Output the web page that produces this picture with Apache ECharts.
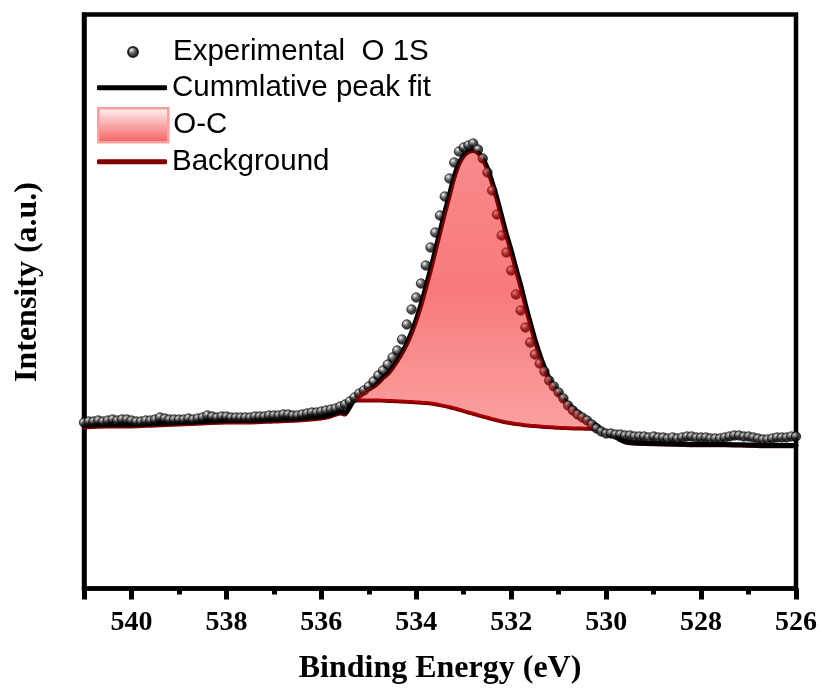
<!DOCTYPE html>
<html>
<head>
<meta charset="utf-8">
<script src="https://cdn.jsdelivr.net/npm/echarts@6/dist/echarts.min.js"></script>
<style>
  html, body { margin: 0; padding: 0; background: #fff; }
  #chart { width: 823px; height: 693px; }
</style>
</head>
<body>
<div id="chart"></div>
<script>
// O 1s scan, binding energy grid (eV), 0.1 eV step
const energies = Array.from({ length: 151 }, (_, i) => +(541 - i * 0.1).toFixed(1))

// measured intensity (a.u.), 541.0 -> 526.0 eV
const experimental = [
  170, 171, 171, 172, 171, 172, 173, 172, 173, 173,
  172, 171, 171, 172, 172, 173, 175, 174, 173, 173,
  173, 173, 174, 173, 174, 175, 177, 176, 175, 176,
  176, 175, 175, 175, 175, 175, 176, 176, 176, 177,
  177, 177, 178, 178, 177, 177, 178, 179, 180, 180,
  181, 182, 183, 184, 186, 188, 191, 195, 199, 202,
  206, 211, 217, 222, 228, 235, 242, 253, 268, 283,
  295, 309, 327, 345, 360, 377, 396, 414, 430, 441,
  445, 447, 449, 443, 434, 420, 402, 378, 357, 340,
  322, 298, 282, 265, 250, 238, 229, 221, 212, 206,
  200, 194, 187, 182, 178, 175, 172, 168, 164, 161,
  159, 159, 158, 158, 157, 157, 156, 156, 156, 155,
  156, 155, 155, 154, 155, 154, 155, 156, 156, 155,
  155, 155, 154, 154, 154, 155, 156, 157, 157, 156,
  156, 155, 154, 153, 153, 154, 155, 155, 155, 156,
  156
]

// fit grid: coarse on the flat parts, 0.1 eV over the peak
const fitEnergies = [
  541.0, 540.5, 540.0, 539.5, 539.0, 538.5, 538.0, 537.5, 537.0, 536.5, 536.0, 535.8, 535.6,
  535.5, 535.4, 535.3, 535.2, 535.1, 535.0, 534.9, 534.8, 534.7, 534.6,
  534.5, 534.4, 534.3, 534.2, 534.1, 534.0, 533.9, 533.8, 533.7, 533.6,
  533.5, 533.4, 533.3, 533.2, 533.1, 533.0, 532.9, 532.8, 532.7, 532.6,
  532.5, 532.4, 532.3, 532.2, 532.1, 532.0, 531.9, 531.8, 531.7, 531.6,
  531.5, 531.4, 531.3, 531.2, 531.1, 531.0, 530.9, 530.8, 530.7, 530.6,
  530.5, 530.4, 530.3, 530.2, 530.1, 530.0, 529.9, 529.8, 529.7, 529.6,
  529.5, 529.0, 528.5, 528.0, 527.5, 527.0, 526.5, 526.0
]

const cumulativeFit = [
  167, 168, 168, 169, 170, 171, 172, 172, 173, 174, 176, 178, 181,
  180, 186, 194, 199, 202, 204, 206, 210, 215, 219,
  225, 232, 240, 249, 260, 273, 288, 305, 323, 342,
  361, 380, 398, 416, 429, 437, 441, 442, 440, 434,
  424, 410, 394, 376, 358, 342, 324, 307, 288, 270,
  253, 238, 225, 214, 206, 199, 193, 188, 184, 180,
  176, 172, 169, 167, 163, 160, 158, 156, 153, 151,
  150, 149, 148.5, 148, 148, 147.5, 147, 147
]

const background = [
  165, 166, 166, 167, 168, 169, 170, 170, 171, 172, 174, 176, 179,
  178, 185, 192, 192, 192, 192, 192, 192, 191.8, 191.6,
  191.4, 191.2, 191, 190.7, 190.4, 190.1, 189.8, 189.4, 188.9, 188.2,
  187.4, 186.4, 185.3, 184.1, 182.8, 181.4, 180, 178.7, 177.3, 176,
  174.7, 173.4, 172.2, 171, 170, 169.2, 168.5, 167.9, 167.3, 166.8,
  166.4, 166, 165.6, 165.3, 165, 164.7, 164.5, 164.3, 164.1, 164,
  163.9, 163.8, 163.6, 162.8, 161.5, 159, 157, 155, 152.2, 150.2,
  149.2, 148.2, 147.7, 147.2, 147.2, 146.7, 146.2, 146.2
]

// fitted O-C component spans this energy window
const ocRange = [530.3, 535.3]

const xTicks = { min: 526, max: 541, interval: 2 }

const ocIdx = fitEnergies
  .map((e, i) => (e >= ocRange[0] - 0.01 && e <= ocRange[1] + 0.01 ? i : -1))
  .filter(i => i >= 0)

const SANS = '"Liberation Sans", Arial, sans-serif'
const SERIF = '"Liberation Serif", "Times New Roman", serif'
const DARK_RED = '#820000'

const dotColor = new echarts.graphic.RadialGradient(0.36, 0.32, 0.64, [
  { offset: 0, color: '#ffffff' },
  { offset: 0.22, color: '#9a9a9a' },
  { offset: 0.6, color: '#202020' },
  { offset: 1, color: '#000000' }
])

const ocFill = new echarts.graphic.LinearGradient(0, 0, 0, 1, [
  { offset: 0, color: 'rgba(241, 0, 0, 0.46)' },
  { offset: 0.5, color: 'rgba(241, 0, 0, 0.52)' },
  { offset: 1, color: 'rgba(241, 0, 0, 0.37)' }
])

const chart = echarts.init(document.getElementById('chart'))

const legendBase = {
  orient: 'vertical',
  left: 97,
  padding: 0,
  itemWidth: 70,
  selectedMode: false,
  textStyle: { fontFamily: SANS, fontSize: 29.5, color: '#000' }
}

chart.setOption({
  animation: false,
  backgroundColor: '#fff',
  textStyle: { fontFamily: SANS },
  grid: {
    left: 84,
    right: 27,
    top: 14.5,
    bottom: 104.5,
    show: true,
    borderColor: '#000',
    borderWidth: 4.5
  },
  legend: [
    {
      // the circle icon sits at the left of its box, so shift it to the swatch centre
      ...legendBase, left: 127, top: 37, itemHeight: 10,
      data: [{ name: 'Experimental  O 1S', icon: 'circle' }]
    },
    {
      ...legendBase, top: 72.7, itemHeight: 5,
      data: [{ name: 'Cummlative peak fit', icon: 'roundRect', itemStyle: { color: '#000' } }]
    },
    {
      ...legendBase, top: 107, itemHeight: 34,
      data: [{
        name: 'O-C',
        icon: 'rect',
        itemStyle: {
          color: new echarts.graphic.LinearGradient(0, 0, 0, 1, [
            { offset: 0, color: '#fff6f6' },
            { offset: 1, color: '#f45c5c' }
          ]),
          borderColor: '#f7a0a0',
          borderWidth: 2.5
        }
      }]
    },
    {
      ...legendBase, top: 146.7, itemHeight: 5,
      data: [{ name: 'Background', icon: 'roundRect', itemStyle: { color: DARK_RED } }]
    }
  ],
  xAxis: {
    type: 'value',
    min: xTicks.min,
    max: xTicks.max,
    interval: xTicks.interval,
    inverse: true,
    name: 'Binding Energy (eV)',
    nameLocation: 'middle',
    nameGap: 64,
    nameTextStyle: { fontFamily: SERIF, fontWeight: 'bold', fontSize: 32, color: '#000' },
    axisLine: { lineStyle: { color: '#000', width: 4.5 } },
    axisTick: { length: 11, lineStyle: { color: '#000', width: 5 } },
    minorTick: { show: true, splitNumber: 2, length: 6, lineStyle: { color: '#000', width: 5 } },
    axisLabel: {
      fontFamily: SERIF, fontWeight: 'bold', fontSize: 28, color: '#000', margin: 20,
      showMaxLabel: false
    },
    splitLine: { show: false }
  },
  yAxis: {
    type: 'value',
    min: 4,
    max: 578,
    name: 'Intensity (a.u.)',
    nameLocation: 'middle',
    nameGap: 40,
    nameTextStyle: {
      fontFamily: SERIF, fontWeight: 'bold', fontSize: 32, color: '#000',
      padding: [0, 0, 0, 39]
    },
    axisLine: { show: true, lineStyle: { color: '#000', width: 4.5 } },
    axisTick: { show: false },
    axisLabel: { show: false },
    splitLine: { show: false }
  },
  series: [
    {
      name: 'Background',
      type: 'line',
      z: 2,
      smooth: 0.3,
      symbol: 'none',
      color: DARK_RED,
      lineStyle: { color: DARK_RED, width: 4, cap: 'round' },
      data: fitEnergies.map((e, i) => [e, background[i]])
    },
    {
      name: 'Cummlative peak fit',
      type: 'line',
      z: 3,
      smooth: 0.3,
      symbol: 'none',
      color: '#000',
      lineStyle: { color: '#000', width: 5, cap: 'round', join: 'round' },
      data: fitEnergies.map((e, i) => [e, cumulativeFit[i]])
    },
    {
      name: 'Experimental  O 1S',
      type: 'scatter',
      z: 4,
      symbol: 'circle',
      symbolSize: 9.5,
      itemStyle: { color: dotColor, borderColor: '#000', borderWidth: 0.8 },
      data: energies.map((e, i) => [e, experimental[i]])
    },
    {
      // area between background and cumulative fit over the O-C window
      name: 'O-C',
      type: 'custom',
      coordinateSystem: 'cartesian2d',
      z: 5,
      silent: true,
      color: '#f06060',
      data: [[ocRange[1], background[ocIdx[0]]]],
      renderItem: (params, api) => {
        const upper = ocIdx.map(i => api.coord([fitEnergies[i], cumulativeFit[i]]))
        const lower = ocIdx.map(i => api.coord([fitEnergies[i], background[i]])).reverse()
        return {
          type: 'polygon',
          shape: { points: upper.concat(lower) },
          style: { fill: ocFill }
        }
      }
    }
  ]
})
</script>
</body>
</html>
